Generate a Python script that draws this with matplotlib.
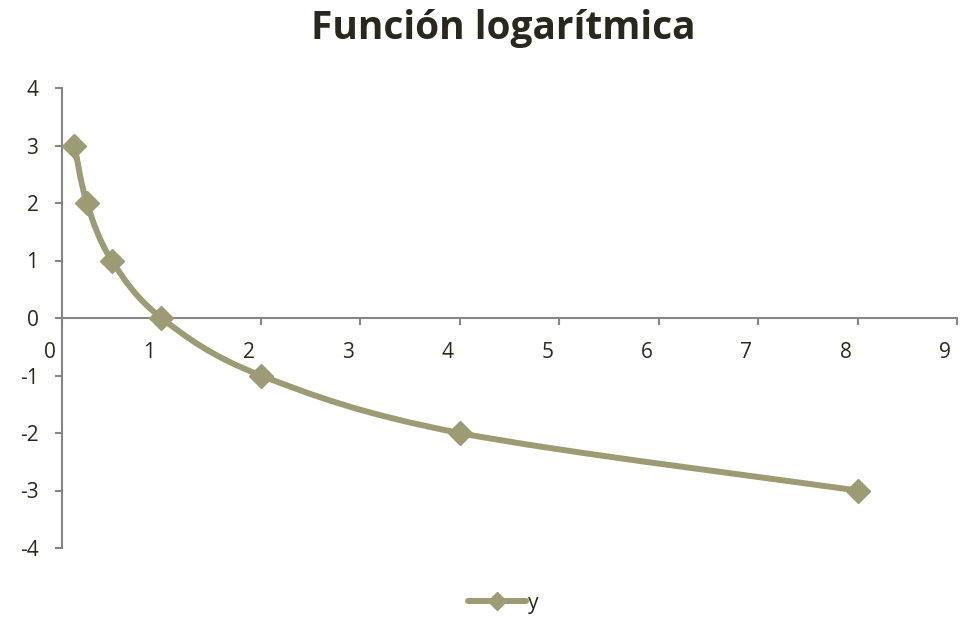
import numpy as np
import matplotlib
matplotlib.use("Agg")
import matplotlib.pyplot as plt
from matplotlib.path import Path
from matplotlib.patches import PathPatch
from matplotlib.lines import Line2D
import matplotlib.transforms as mtransforms

x_vals = [0.125, 0.25, 0.5, 1, 2, 4, 8]
y_vals = [3, 2, 1, 0, -1, -2, -3]
series_name = "y"
title = "Función logarítmica"
x_ticks = [0, 1, 2, 3, 4, 5, 6, 7, 8, 9]
y_ticks = [-4, -3, -2, -1, 0, 1, 2, 3, 4]

color = "#9d9b73"
axis_color = "#868686"
text_color = "#2a281c"

plt.rcParams['font.family'] = ['Open Sans', 'DejaVu Sans']

fig = plt.figure(figsize=(9.61, 6.17), dpi=100)
W, H = 961, 617
ax = fig.add_axes([62 / W, (H - 548) / H, (957 - 62) / W, (548 - 88) / H])
ax.set_xlim(0, 9)
ax.set_ylim(-4, 4)

# smoothed line (Catmull-Rom style bezier, as Excel smoothing)
pts = np.column_stack([x_vals, y_vals]).astype(float)
n = len(pts)
verts = [pts[0]]
codes = [Path.MOVETO]
for i in range(n - 1):
    p0 = pts[i - 1] if i > 0 else pts[i]
    p1 = pts[i]
    p2 = pts[i + 1]
    p3 = pts[i + 2] if i + 2 < n else pts[i + 1]
    c1 = p1 + (p2 - p0) / 6.0
    c2 = p2 - (p3 - p1) / 6.0
    verts += [c1, c2, p2]
    codes += [Path.CURVE4] * 3
path = Path(verts, codes)
ax.add_patch(PathPatch(path, facecolor="none", edgecolor=color, lw=4.3,
                       capstyle="round", joinstyle="round", zorder=3))
ax.plot(x_vals, y_vals, linestyle="none", marker="D", markersize=12.5,
        color=color, zorder=4, clip_on=False)

for s in ["top", "right"]:
    ax.spines[s].set_visible(False)
ax.spines["left"].set_position(("data", 0))
ax.spines["bottom"].set_position(("data", 0))
for s in ["left", "bottom"]:
    ax.spines[s].set_color(axis_color)
    ax.spines[s].set_linewidth(1.5)

ax.set_xticks(x_ticks)
ax.set_yticks(y_ticks)
ax.set_xticklabels([str(t) for t in x_ticks])
ax.set_yticklabels([str(t) for t in y_ticks])
ax.tick_params(axis="both", direction="out", length=5, width=1.5,
               color=axis_color, labelsize=15, labelcolor=text_color)
ax.tick_params(axis="x", pad=12)
ax.tick_params(axis="y", pad=12)
offset = mtransforms.ScaledTranslation(-12 / 100, 0, fig.dpi_scale_trans)
for lab in ax.get_xticklabels():
    lab.set_transform(lab.get_transform() + offset)

fig.text(503 / W, 1 - 28 / H, title, ha="center", va="center",
         fontsize=28, fontweight="bold", color=text_color)

handle = Line2D([], [], color=color, lw=4.3, marker="D", markersize=9,
                solid_capstyle="round")
fig.legend([handle], [series_name], loc="center", bbox_to_anchor=(503 / W, 1 - 603 / H),
           frameon=False, fontsize=15, handlelength=2.8, handletextpad=0.1,
           labelcolor=text_color)

fig.savefig("out.png", dpi=100, facecolor="white")
